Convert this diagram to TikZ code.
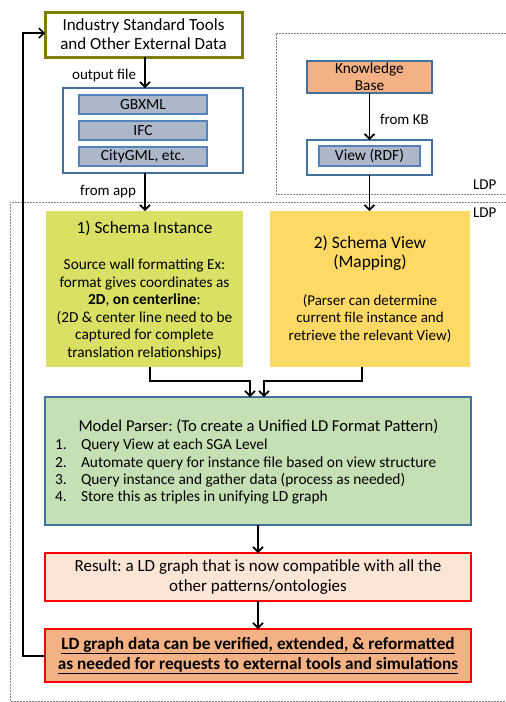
\documentclass[tikz,border=0pt]{standalone}
\usepackage{fontspec}
\setmainfont{Carlito}
\usetikzlibrary{arrows.meta}
\frenchspacing

\definecolor{olivebd}{RGB}{128,128,0}
\definecolor{bluebd}{RGB}{65,113,156}
\definecolor{innerbd}{RGB}{84,130,186}
\definecolor{innerfill}{RGB}{172,184,202}
\definecolor{kbfill}{RGB}{244,177,131}
\definecolor{sifill}{RGB}{218,224,100}
\definecolor{svfill}{RGB}{255,217,102}
\definecolor{parserfill}{RGB}{197,224,180}
\definecolor{resultfill}{RGB}{251,229,214}
\definecolor{ldpgray}{RGB}{128,128,128}

\tikzset{
  box/.style={rectangle, inner sep=0pt, outer sep=0pt, align=center},
  olivebox/.style={box, draw=olivebd, line width=3pt, fill=white},
  bluebox/.style={box, draw=bluebd, line width=2.4pt, fill=white},
  innerbox/.style={box, draw=innerbd, line width=1.2pt, fill=innerfill},
  redbox/.style={box, draw=red, line width=2.8pt},
  ldpframe/.style={draw=ldpgray, line width=1pt, dash pattern=on 2pt off 1pt},
  flow/.style={draw=black, line width=1.6pt, -{Straight Barb[length=5pt,width=10pt,line width=1.6pt]}},
  plainline/.style={draw=black, line width=1.6pt},
  txt/.style={inner sep=0pt, outer sep=0pt, align=center},
  lbl/.style={inner sep=0pt, outer sep=0pt, font=\fontsize{15}{17}\selectfont},
}

\begin{document}
\begin{tikzpicture}[x=1pt,y=-1pt]
\useasboundingbox (0,0) rectangle (506,702);

% LDP frames (open to the right)
\draw[ldpframe] (530,33) -- (276,33) -- (276,194) -- (530,194);
\draw[ldpframe] (530,202) -- (10,202) -- (10,701) -- (530,701);
\node[lbl, anchor=west] (ldpA) at (473,185) {LDP};
\node[lbl, anchor=west] (ldpB) at (473,213) {LDP};

% external tools and exchange formats
\node[olivebox, minimum width=197pt, minimum height=45pt,
      font=\fontsize{17}{19}\selectfont] (ind) at (143.5,34.5)
      {Industry Standard Tools\\and Other External Data};
\node[bluebox, minimum width=180pt, minimum height=85pt] (apps) at (153,130.5) {};
\node[innerbox, minimum width=128pt, minimum height=19pt,
      font=\fontsize{15.5}{17}\selectfont] (gbxml) at (143,104.5) {GBXML};
\node[innerbox, minimum width=128pt, minimum height=19pt,
      font=\fontsize{15.5}{17}\selectfont] (ifc) at (143,130.5) {IFC};
\node[innerbox, minimum width=128pt, minimum height=19pt,
      font=\fontsize{15.5}{17}\selectfont] (city) at (143,156.5) {CityGML, etc.};

% knowledge base side
\node[box, draw=bluebd, line width=2.4pt, fill=kbfill, minimum width=125pt,
      minimum height=32pt, font=\fontsize{15.3}{17}\selectfont] (kb) at (369.5,77)
      {Knowledge\\Base};
\node[bluebox, minimum width=125pt, minimum height=35pt] (view) at (369.5,157.5) {};
\node[innerbox, minimum width=101pt, minimum height=20pt,
      font=\fontsize{15.5}{17}\selectfont] (rdf) at (369.5,156) {View (RDF)};

% schema boxes
\node[box, fill=sifill, minimum width=197pt, minimum height=156pt] (si) at (144.5,289) {};
\node[txt, font=\fontsize{17.3}{19}\selectfont] (sititle) at (144.5,228) {1) Schema Instance};
\node[txt, font=\fontsize{15.3}{17.5}\selectfont] (sibody) at (144.5,309.5)
  {Source wall formatting Ex:\\format gives coordinates as\\\textbf{2D}, \textbf{on centerline}:\\(2D \& center line need to be\\captured for complete\\translation relationships)};

\node[box, fill=svfill, minimum width=200pt, minimum height=156pt] (sv) at (370,289) {};
\node[txt, font=\fontsize{17.4}{19}\selectfont] (svtitle) at (370,253.5) {2) Schema View\\(Mapping)};
\node[txt, font=\fontsize{15}{17.5}\selectfont] (svbody) at (370,318.5)
  {(Parser can determine\\current file instance and\\retrieve the relevant View)};

% parser
\node[box, draw=bluebd, line width=2.4pt, fill=parserfill, minimum width=426pt,
      minimum height=128pt] (parser) at (258,461) {};
\node[txt, font=\fontsize{16.6}{18}\selectfont] (ptitle) at (258.5,427)
  {Model Parser: (To create a Unified LD Format Pattern)};
\foreach \n/\yy/\t in {1/445/{Query View at each SGA Level},
                      2/463/{Automate query for instance file based on view structure},
                      3/480/{Query instance and gather data (process as needed)},
                      4/497/{Store this as triples in unifying LD graph}}{
  \node[txt, anchor=west, font=\fontsize{15.4}{17}\selectfont] (pnum\n) at (55,\yy) {\n.};
  \node[txt, anchor=west, font=\fontsize{15.4}{17}\selectfont] (pitem\n) at (81,\yy) {\t};
}

% result and outcome
\node[redbox, fill=resultfill, minimum width=426pt, minimum height=48pt,
      font=\fontsize{17}{20}\selectfont] (result) at (258,577)
  {Result: a LD graph that is now compatible with all the\\other patterns/ontologies};
\node[redbox, fill=kbfill, minimum width=426pt, minimum height=53pt,
      font=\fontsize{17.2}{20}\selectfont\bfseries] (final) at (258,655.5)
  {\underline{LD graph data can be verified, extended, \& reformatted}\\\underline{as needed for requests to external tools and simulations}};

% connectors
\draw[flow] (145,57) -- (145,88);
\node[lbl, anchor=east] (outfile) at (136,75) {output file};
\draw[flow] (145,173) -- (145,211);
\node[lbl, anchor=east] (fromapp) at (136,192) {from app};
\draw[flow] (kb.south) -- (view.north);
\node[lbl, anchor=west] (fromkb) at (380,119) {from KB};
\draw[flow] (view.south) -- (sv.north -| view.south);

\draw[flow] (150,367) -- (150,381) -- (250,381) -- (250,397);
\draw[flow] (362,367) -- (362,381) -- (264,381) -- (264,397);

\draw[flow] (parser.south) -- (result.north);
\draw[flow] (result.south) -- (final.north);
\draw[plainline, -{Straight Barb[length=5pt,width=10pt,line width=1.6pt]}]
  (final.west |- 0,656) -- (23,656) -- (23,33) -- (ind.west |- 0,33);
\end{tikzpicture}
\end{document}
